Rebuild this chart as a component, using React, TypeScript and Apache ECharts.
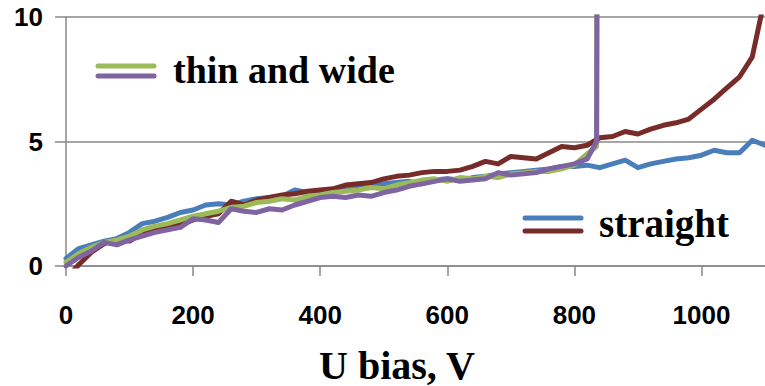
import React, { useEffect, useRef } from "react";
import * as echarts from "echarts";

// U bias (V) sample points
const voltageStraight = [
  0, 20, 40, 60, 80, 100, 120, 140, 160, 180, 200, 220, 240, 260, 280, 300, 320, 340, 360, 380,
  400, 420, 440, 460, 480, 500, 520, 540, 560, 580, 600, 620, 640, 660, 680, 700, 720, 740, 760, 780,
  800, 820, 840, 860, 880, 900, 920, 940, 960, 980, 1000, 1020, 1040, 1060, 1080, 1100,
];
const voltageThin = [
  0, 20, 40, 60, 80, 100, 120, 140, 160, 180, 200, 220, 240, 260, 280, 300, 320, 340, 360, 380,
  400, 420, 440, 460, 480, 500, 520, 540, 560, 580, 600, 620, 640, 660, 680, 700, 720, 740, 760, 780,
  800, 820, 835, 840,
];

// straight (blue)
const straightBlue = [
  0.3, 0.7, 0.85, 1.0, 1.1, 1.35, 1.7, 1.8, 1.95, 2.15, 2.25, 2.45, 2.5, 2.45, 2.6, 2.7, 2.75, 2.8, 3.05, 2.95,
  3.0, 3.05, 3.1, 3.15, 3.2, 3.3, 3.35, 3.4, 3.3, 3.45, 3.5, 3.45, 3.55, 3.6, 3.7, 3.75, 3.8, 3.85, 3.9, 4.0,
  4.0, 4.05, 3.95, 4.1, 4.25, 3.95, 4.1, 4.2, 4.3, 4.35, 4.45, 4.65, 4.55, 4.55, 5.05, 4.85,
];
// straight (dark red)
const straightRed = [
  -0.5, 0.05, 0.55, 0.9, 1.05, 1.0, 1.3, 1.45, 1.55, 1.65, 1.85, 2.0, 2.1, 2.6, 2.45, 2.65, 2.75, 2.85, 2.9, 3.0,
  3.05, 3.1, 3.25, 3.3, 3.35, 3.5, 3.6, 3.65, 3.75, 3.8, 3.8, 3.85, 4.0, 4.2, 4.1, 4.4, 4.35, 4.3, 4.55, 4.8,
  4.75, 4.85, 5.15, 5.2, 5.4, 5.3, 5.5, 5.65, 5.75, 5.9, 6.3, 6.7, 7.15, 7.6, 8.4, 10.8,
];
// thin and wide (green)
const thinGreen = [
  0.15, 0.5, 0.75, 0.95, 1.05, 1.2, 1.45, 1.6, 1.7, 1.85, 2.0, 2.1, 2.2, 2.35, 2.4, 2.55, 2.6, 2.7, 2.65, 2.8,
  2.85, 2.95, 3.0, 3.05, 3.15, 3.1, 3.25, 3.35, 3.45, 3.5, 3.4, 3.55, 3.5, 3.6, 3.55, 3.7, 3.75, 3.8, 3.8, 3.9,
  4.05, 4.5, 4.8, 60,
];
// thin and wide (purple)
const thinPurple = [
  0.0, 0.35, 0.6, 0.95, 0.85, 1.05, 1.2, 1.35, 1.45, 1.55, 1.9, 1.85, 1.75, 2.3, 2.2, 2.15, 2.3, 2.25, 2.45, 2.6,
  2.75, 2.8, 2.75, 2.85, 2.8, 2.95, 3.05, 3.2, 3.3, 3.4, 3.5, 3.4, 3.45, 3.5, 3.75, 3.65, 3.7, 3.75, 3.9, 4.0,
  4.1, 4.3, 5.0, 60,
];

const xTicks = [0, 200, 400, 600, 800, 1000];
const yTicks = [0, 5, 10];
const legendThin = "thin and wide";
const legendStraight = "straight";
const xTitle = "U bias, V";

const BLUE = "#4A7EBB";
const RED = "#772C2A";
const GREEN = "#9BBB59";
const PURPLE = "#8064A2";
const AXIS = "#888888";

const pairs = (xs: number[], ys: number[]) => xs.map((x, i) => [x, ys[i]]);

export default function App() {
  const ref = useRef<HTMLDivElement>(null);
  useEffect(() => {
    if (!ref.current) return;
    const chart = echarts.init(ref.current, null, { renderer: "svg" });
    const lineSeries = (name: string, data: number[][], color: string) => ({
      type: "line",
      name,
      data,
      showSymbol: false,
      symbol: "none",
      lineStyle: { color, width: 5, join: "round", cap: "round" },
      itemStyle: { color },
      clip: true,
    });
    const serif = "'Liberation Serif', 'Times New Roman', serif";
    chart.setOption({
      animation: false,
      backgroundColor: "#ffffff",
      grid: { left: 66, right: -4, top: 17, bottom: 120, containLabel: false },
      xAxis: {
        type: "value",
        min: 0,
        max: 1100,
        interval: 200,
        axisLine: { show: true, lineStyle: { color: AXIS, width: 1.5 } },
        axisTick: { show: true, length: 10, lineStyle: { color: AXIS, width: 1.5 } },
        splitLine: { show: false },
        axisLabel: {
          margin: 36,
          color: "#000",
          fontFamily: "'Liberation Sans', Arial, sans-serif",
          fontWeight: "bold",
          fontSize: 26,
          showMaxLabel: false,
          formatter: (v: number) => (xTicks.includes(v) ? String(v) : ""),
        },
      },
      yAxis: {
        type: "value",
        min: 0,
        max: 10,
        interval: 5,
        axisLine: { show: true, lineStyle: { color: AXIS, width: 1.5 } },
        axisTick: { show: true, length: 11, lineStyle: { color: AXIS, width: 1.5 } },
        splitLine: { show: true, lineStyle: { color: AXIS, width: 1.5 } },
        axisLabel: {
          margin: 23,
          color: "#000",
          fontFamily: "'Liberation Sans', Arial, sans-serif",
          fontWeight: "bold",
          fontSize: 26,
          formatter: (v: number) => (yTicks.includes(v) ? String(v) : ""),
        },
      },
      series: [
        lineSeries("straight", pairs(voltageStraight, straightBlue), BLUE),
        lineSeries("straight 2", pairs(voltageStraight, straightRed), RED),
        lineSeries("thin and wide", pairs(voltageThin, thinGreen), GREEN),
        lineSeries("thin and wide 2", pairs(voltageThin, thinPurple), PURPLE),
      ],
      graphic: [
        { type: "line", shape: { x1: 98, y1: 66, x2: 154, y2: 66 }, style: { stroke: GREEN, lineWidth: 5, lineCap: "round" } },
        { type: "line", shape: { x1: 98, y1: 76, x2: 154, y2: 76 }, style: { stroke: PURPLE, lineWidth: 5, lineCap: "round" } },
        {
          type: "text",
          x: 173,
          y: 70,
          style: { text: legendThin, font: `bold 38px ${serif}`, fill: "#000", textVerticalAlign: "middle", textAlign: "left" },
        },
        { type: "line", shape: { x1: 525, y1: 218, x2: 581, y2: 218 }, style: { stroke: BLUE, lineWidth: 5, lineCap: "round" } },
        { type: "line", shape: { x1: 525, y1: 231, x2: 581, y2: 231 }, style: { stroke: RED, lineWidth: 5, lineCap: "round" } },
        {
          type: "text",
          x: 599,
          y: 223,
          style: { text: legendStraight, font: `bold 39px ${serif}`, fill: "#000", textVerticalAlign: "middle", textAlign: "left" },
        },
        {
          type: "text",
          x: 397,
          y: 365,
          style: { text: xTitle, font: `bold 40px ${serif}`, fill: "#000", textVerticalAlign: "middle", textAlign: "center" },
        },
      ],
    });
    return () => chart.dispose();
  }, []);
  return (
    <div
      ref={ref}
      style={{ position: "fixed", left: 0, top: 0, width: 765, height: 386, background: "#fff" }}
    />
  );
}
